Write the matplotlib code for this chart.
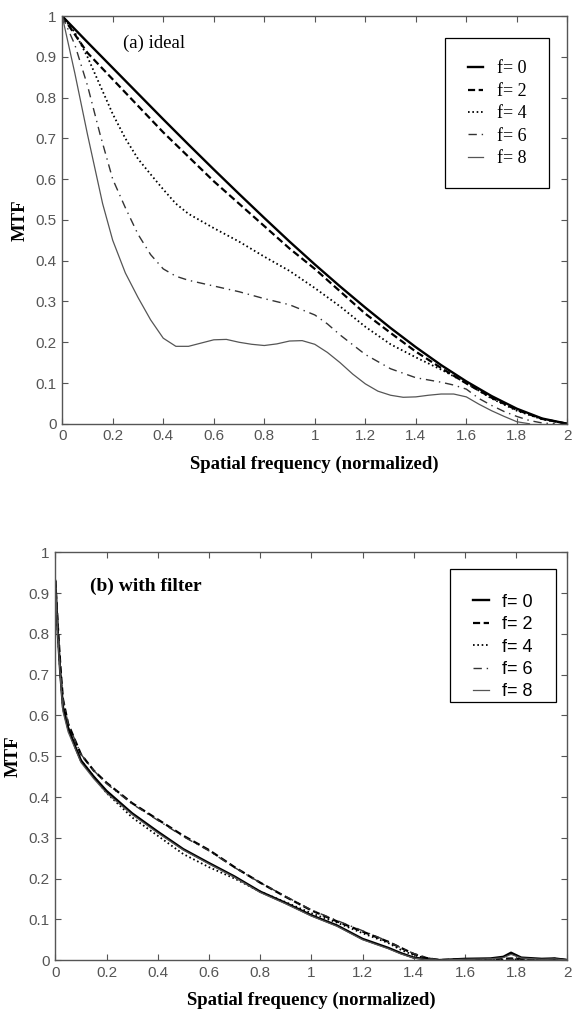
import numpy as np
import matplotlib.pyplot as plt
from matplotlib.patches import Rectangle
from matplotlib.ticker import FixedLocator, FormatStrFormatter

# ---- (a) ideal ----
xa_fine = [0, 0.1, 0.2, 0.3, 0.4, 0.5, 0.6, 0.7, 0.8, 0.9, 1.0, 1.1, 1.2, 1.3, 1.4,
           1.5, 1.6, 1.7, 1.8, 1.9, 2.0]
a_f0 = [1.0, 0.936, 0.873, 0.810, 0.747, 0.685, 0.624, 0.564, 0.505, 0.447, 0.391,
        0.337, 0.285, 0.235, 0.188, 0.144, 0.104, 0.068, 0.037, 0.013, 0.0]
a_f2 = [1.0, 0.91, 0.845, 0.78, 0.715, 0.655, 0.595, 0.54, 0.485, 0.43, 0.38,
        0.325, 0.27, 0.223, 0.177, 0.137, 0.099, 0.064, 0.034, 0.012, 0.0]

xa_f4 = [0, 0.05, 0.1, 0.15, 0.2, 0.25, 0.3, 0.35, 0.4, 0.45, 0.5, 0.6, 0.7, 0.8, 0.9,
         1.0, 1.1, 1.2, 1.3, 1.4, 1.5, 1.6, 1.7, 1.8, 1.9, 2.0]
a_f4 = [1.0, 0.96, 0.9, 0.83, 0.76, 0.7, 0.65, 0.612, 0.575, 0.54, 0.515, 0.48,
        0.447, 0.41, 0.375, 0.333, 0.288, 0.238, 0.195, 0.163, 0.133, 0.1, 0.062,
        0.032, 0.011, 0.0]

xa_f6 = [0, 0.05, 0.1, 0.15, 0.2, 0.25, 0.3, 0.35, 0.4, 0.45, 0.5, 0.6, 0.7, 0.8, 0.9,
         1.0, 1.05, 1.1, 1.2, 1.3, 1.4, 1.5, 1.55, 1.6, 1.65, 1.7, 1.75, 1.8, 1.85,
         1.9, 1.95]
a_f6 = [1.0, 0.93, 0.83, 0.71, 0.6, 0.53, 0.465, 0.415, 0.38, 0.362, 0.352, 0.338,
        0.324, 0.307, 0.292, 0.267, 0.245, 0.218, 0.17, 0.135, 0.113, 0.102, 0.095,
        0.085, 0.062, 0.045, 0.03, 0.018, 0.008, 0.002, 0.0]

xa_f8 = [0, 0.05, 0.1, 0.16, 0.2, 0.25, 0.3, 0.35, 0.4, 0.45, 0.5, 0.55, 0.6, 0.65,
         0.7, 0.75, 0.8, 0.85, 0.9, 0.95, 1.0, 1.05, 1.1, 1.15, 1.2, 1.25, 1.3, 1.35,
         1.4, 1.45, 1.5, 1.55, 1.6, 1.65, 1.7, 1.75, 1.8, 1.85]
a_f8 = [1.0, 0.86, 0.71, 0.54, 0.45, 0.37, 0.31, 0.255, 0.21, 0.19, 0.19, 0.198,
        0.206, 0.207, 0.2, 0.195, 0.192, 0.196, 0.203, 0.204, 0.195, 0.175, 0.15,
        0.122, 0.098, 0.08, 0.07, 0.065, 0.066, 0.07, 0.073, 0.073, 0.066, 0.048,
        0.032, 0.018, 0.005, 0.0]

# ---- (b) with filter ----
xb = [0, 0.01, 0.02, 0.03, 0.05, 0.08, 0.1, 0.15, 0.2, 0.3, 0.4, 0.5, 0.6, 0.7, 0.8,
      0.9, 1.0, 1.1, 1.2, 1.3, 1.35, 1.4, 1.45, 1.5, 1.6, 1.7, 1.75, 1.78, 1.82,
      1.9, 1.95, 2.0]
b_f0 = [0.93, 0.80, 0.70, 0.62, 0.57, 0.52, 0.49, 0.45, 0.415, 0.36, 0.315, 0.272,
        0.238, 0.205, 0.168, 0.14, 0.11, 0.085, 0.052, 0.03, 0.017, 0.006, 0.002,
        0.0, 0.003, 0.004, 0.008, 0.018, 0.006, 0.003, 0.004, 0.0]
b_f2 = [0.93, 0.82, 0.72, 0.64, 0.58, 0.535, 0.505, 0.465, 0.435, 0.385, 0.345, 0.305,
        0.27, 0.228, 0.19, 0.155, 0.122, 0.095, 0.07, 0.045, 0.03, 0.015, 0.005,
        0.0, 0.002, 0.0, 0.003, 0.004, 0.002, 0.0, 0.003, 0.0]
b_f4 = [0.93, 0.80, 0.70, 0.62, 0.57, 0.52, 0.49, 0.45, 0.41, 0.35, 0.305, 0.26,
        0.228, 0.2, 0.168, 0.142, 0.115, 0.092, 0.066, 0.042, 0.025, 0.012, 0.004,
        0.0, 0.0, 0.002, 0.0, 0.003, 0.0, 0.0, 0.0, 0.0]
b_f6 = [0.93, 0.82, 0.71, 0.64, 0.58, 0.535, 0.505, 0.465, 0.433, 0.383, 0.343, 0.303,
        0.268, 0.227, 0.19, 0.156, 0.123, 0.097, 0.072, 0.046, 0.03, 0.016, 0.006,
        0.0, 0.0, 0.003, 0.0, 0.002, 0.0, 0.0, 0.0, 0.0]
b_f8 = [0.93, 0.79, 0.69, 0.61, 0.56, 0.515, 0.485, 0.445, 0.41, 0.357, 0.312, 0.27,
        0.236, 0.203, 0.166, 0.138, 0.108, 0.083, 0.05, 0.028, 0.015, 0.005, 0.001,
        0.0, 0.002, 0.003, 0.006, 0.014, 0.005, 0.002, 0.003, 0.0]

labels = ['f= 0', 'f= 2', 'f= 4', 'f= 6', 'f= 8']

GRAY = '#555555'
styles = [
    dict(color='black', lw=1.7, ls='-'),
    dict(color='black', lw=1.6, ls=(0, (3.2, 1.6))),
    dict(color='black', lw=1.3, ls=(0, (0.9, 1.5))),
    dict(color='#333333', lw=1.0, ls=(0, (6, 3.5, 1, 3.5))),
    dict(color=GRAY, lw=0.9, ls='-'),
]

fig = plt.figure(figsize=(5.76, 10.09), dpi=100)
ax1 = fig.add_axes([0.108, 0.580, 0.877, 0.404])
ax2 = fig.add_axes([0.096, 0.0485, 0.889, 0.404])


def style_axes(ax):
    ax.set_xlim(0, 2)
    ax.set_ylim(0, 1)
    ax.xaxis.set_major_locator(FixedLocator(np.arange(0, 2.01, 0.2)))
    ax.yaxis.set_major_locator(FixedLocator(np.arange(0, 1.01, 0.1)))
    ax.xaxis.set_major_formatter(FormatStrFormatter('%g'))
    ax.yaxis.set_major_formatter(FormatStrFormatter('%g'))
    ax.tick_params(direction='in', top=True, right=True, length=4, width=0.8,
                   color=GRAY, labelcolor=GRAY, labelsize=11, pad=4)
    for lab in ax.get_xticklabels() + ax.get_yticklabels():
        lab.set_family('Liberation Sans')
    for sp in ax.spines.values():
        sp.set_color(GRAY)
        sp.set_linewidth(1.0)
    ax.set_xlabel('Spatial frequency (normalized)', family='Liberation Serif',
                  fontweight='bold', fontsize=13.5, labelpad=9)
    ax.set_ylabel('MTF', family='Liberation Serif', fontweight='bold', fontsize=13.5,
                  labelpad=5)


def add_legend(ax, anchor, box, family):
    leg = ax.legend(loc='upper left', bbox_to_anchor=anchor,
                    bbox_transform=fig.transFigure, frameon=False, borderpad=0,
                    handlelength=0.85, handletextpad=0.75, labelspacing=0.3,
                    prop={'family': family, 'size': 13})
    fig.patches.append(Rectangle(box[:2], box[2], box[3], transform=fig.transFigure,
                                 fill=False, edgecolor='black', linewidth=0.9,
                                 zorder=5))
    return leg


# top panel
ax1.plot(xa_fine, a_f0, label=labels[0], **styles[0])
ax1.plot(xa_fine, a_f2, label=labels[1], **styles[1])
ax1.plot(xa_f4, a_f4, label=labels[2], **styles[2])
ax1.plot(xa_f6, a_f6, label=labels[3], **styles[3])
ax1.plot(xa_f8, a_f8, label=labels[4], **styles[4])
style_axes(ax1)
ax1.text(0.121, 0.934, '(a) ideal', transform=ax1.transAxes, va='center',
         family='Liberation Serif', fontsize=13.5)
add_legend(ax1, (0.797, 0.949), (0.7726, 0.8137, 0.1806, 0.1487), 'Liberation Serif')

# bottom panel
ax2.plot(xb, b_f0, label=labels[0], **styles[0])
ax2.plot(xb, b_f2, label=labels[1], **styles[1])
ax2.plot(xb, b_f4, label=labels[2], **styles[2])
ax2.plot(xb, b_f6, label=labels[3], **styles[3])
ax2.plot(xb, b_f8, label=labels[4], **styles[4])
style_axes(ax2)
ax2.text(0.068, 0.917, '(b) with filter', transform=ax2.transAxes, va='center',
         family='Liberation Serif', fontweight='bold', fontsize=14)
add_legend(ax2, (0.806, 0.4205), (0.78125, 0.3043, 0.184, 0.1318), 'Liberation Sans')

fig.savefig('out.png', dpi=100)
